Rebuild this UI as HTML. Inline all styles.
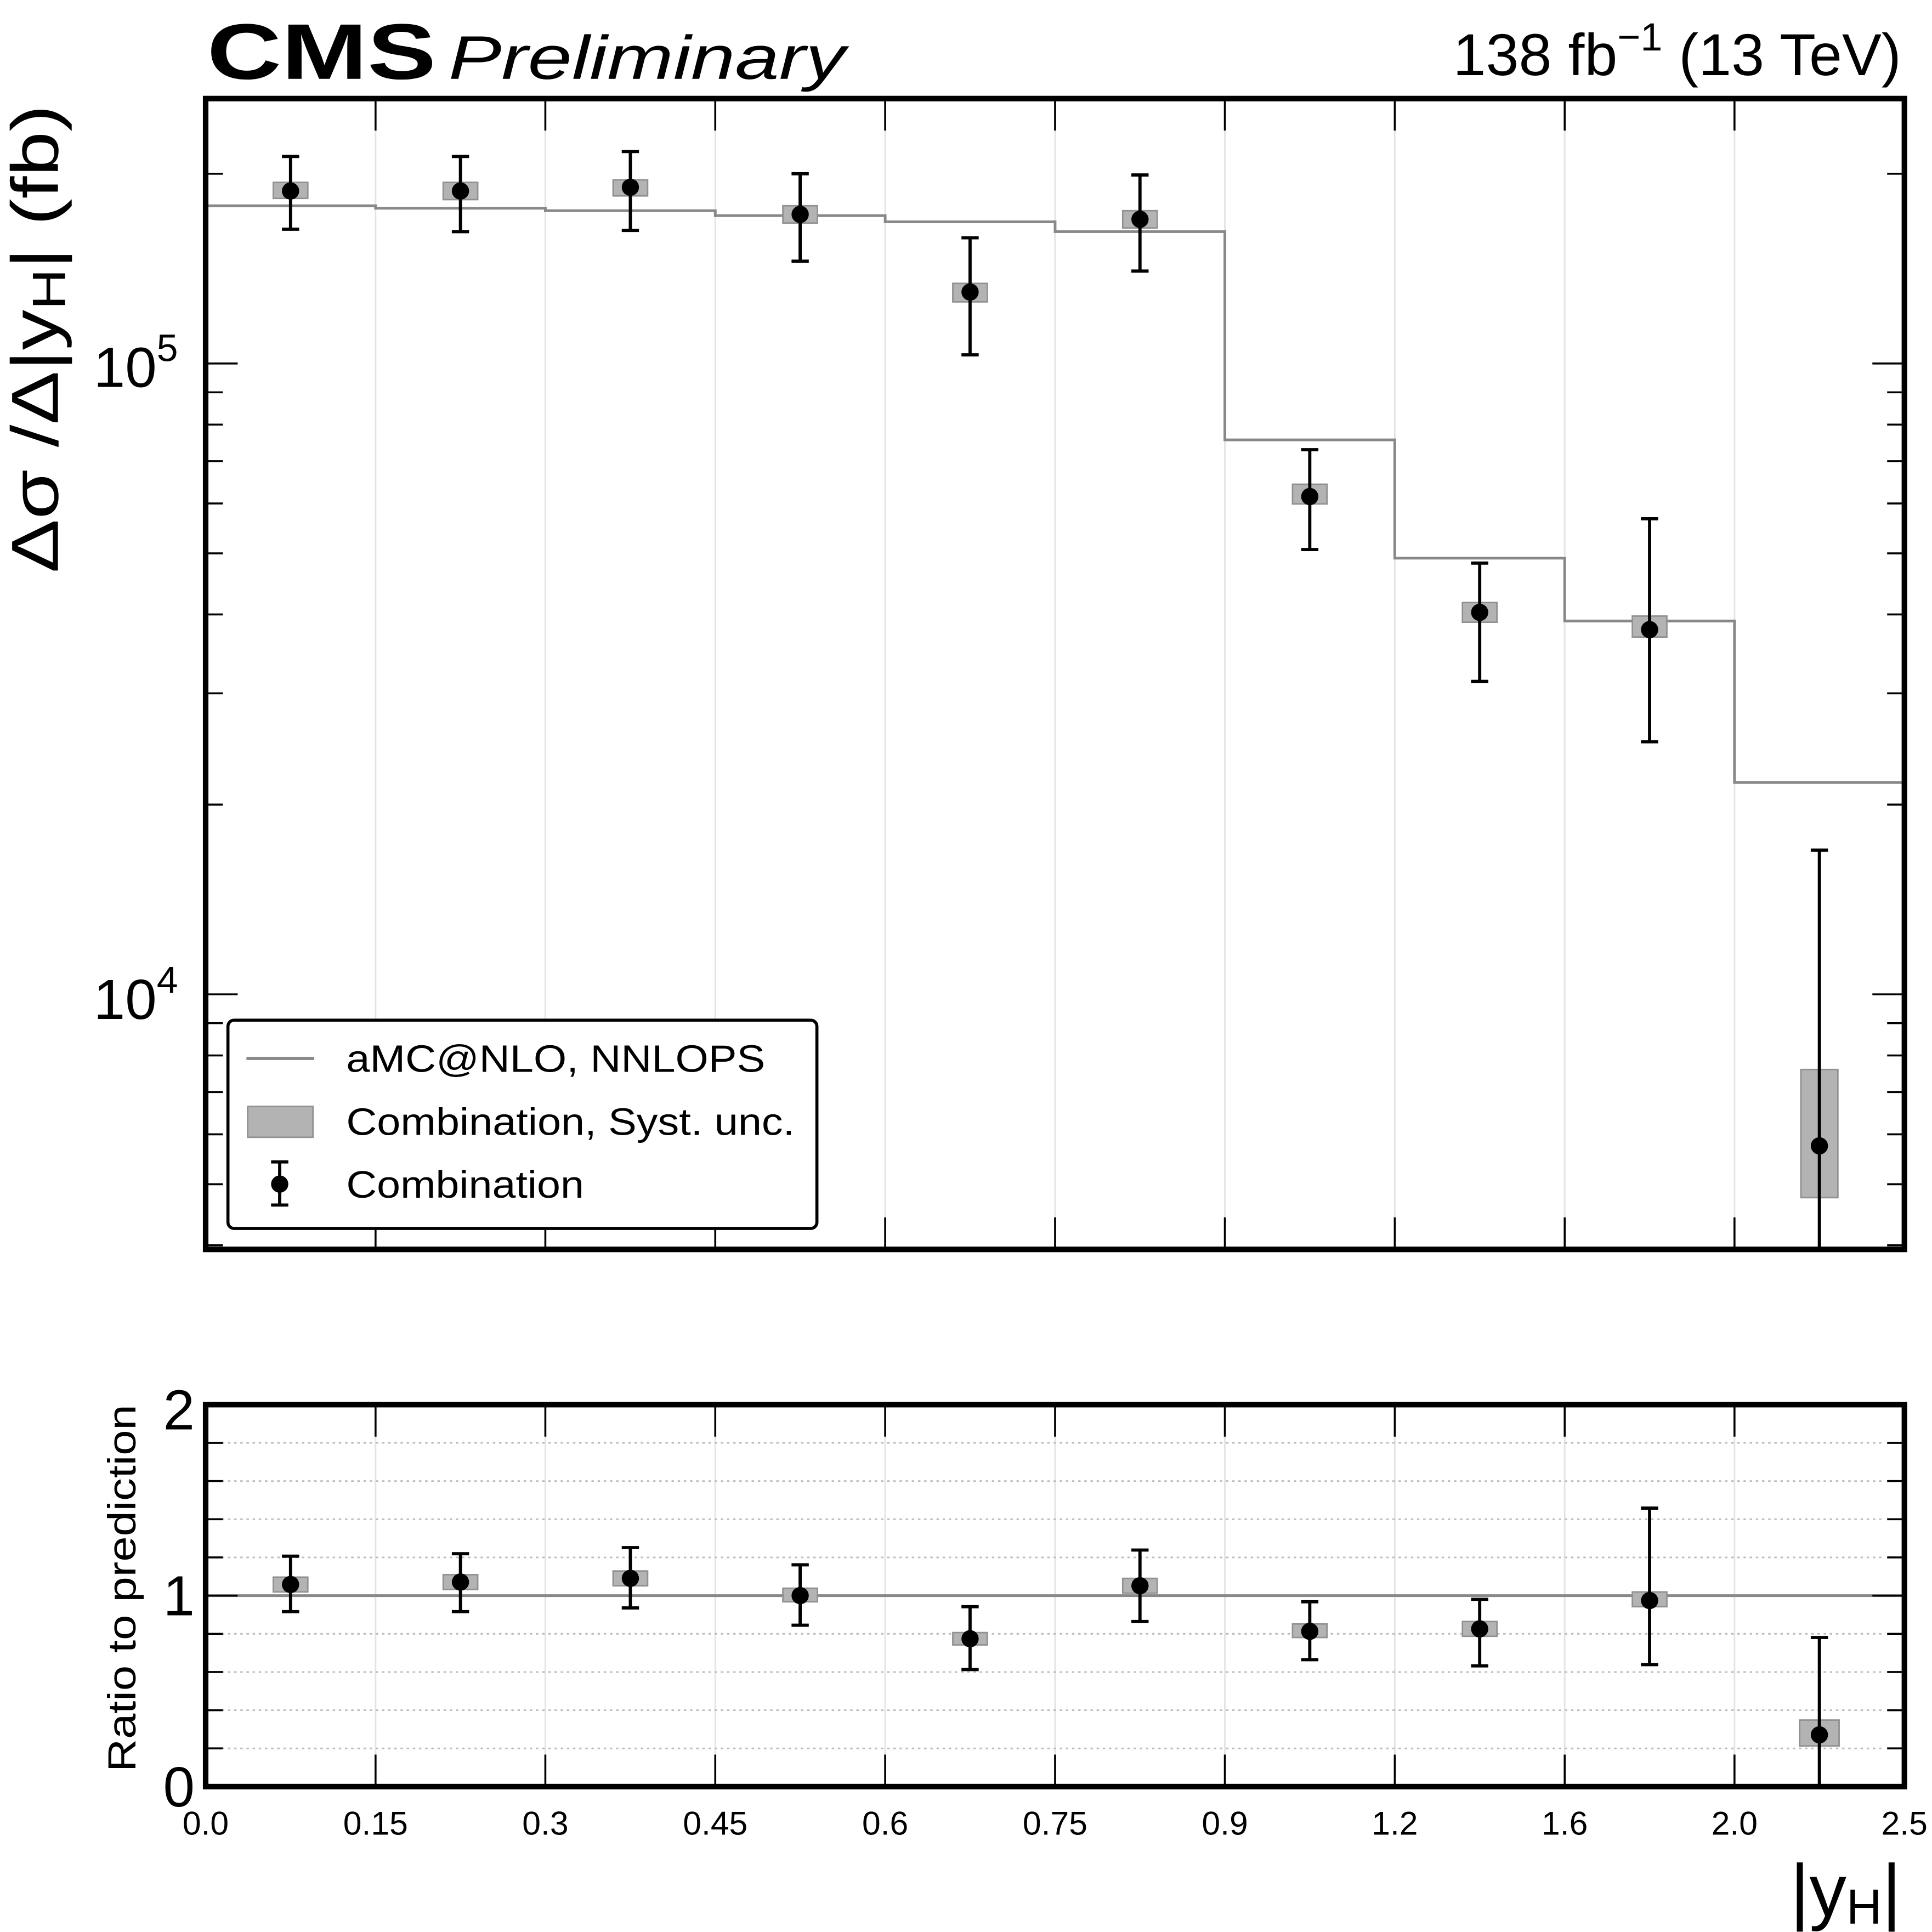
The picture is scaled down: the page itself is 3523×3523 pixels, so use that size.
<!DOCTYPE html>
<html><head><meta charset="utf-8"><style>
html,body{margin:0;padding:0;background:#fff;}
svg{display:block;}
text{font-family:"Liberation Sans",Arial,sans-serif;fill:#000;}
</style></head><body>
<svg width="3523" height="3523" viewBox="0 0 1568 1568" xmlns="http://www.w3.org/2000/svg">
<g stroke="#e4e4e4" stroke-width="1.3">
<line x1="304.8" y1="80" x2="304.8" y2="1014"/><line x1="442.6" y1="80" x2="442.6" y2="1014"/><line x1="580.5" y1="80" x2="580.5" y2="1014"/><line x1="718.4" y1="80" x2="718.4" y2="1014"/><line x1="856.3" y1="80" x2="856.3" y2="1014"/><line x1="994.1" y1="80" x2="994.1" y2="1014"/><line x1="1132" y1="80" x2="1132" y2="1014"/><line x1="1269.9" y1="80" x2="1269.9" y2="1014"/><line x1="1407.7" y1="80" x2="1407.7" y2="1014"/>
<line x1="304.8" y1="1140" x2="304.8" y2="1450"/><line x1="442.6" y1="1140" x2="442.6" y2="1450"/><line x1="580.5" y1="1140" x2="580.5" y2="1450"/><line x1="718.4" y1="1140" x2="718.4" y2="1450"/><line x1="856.3" y1="1140" x2="856.3" y2="1450"/><line x1="994.1" y1="1140" x2="994.1" y2="1450"/><line x1="1132" y1="1140" x2="1132" y2="1450"/><line x1="1269.9" y1="1140" x2="1269.9" y2="1450"/><line x1="1407.7" y1="1140" x2="1407.7" y2="1450"/>
</g>
<g stroke="#bbb" stroke-width="1.3" stroke-dasharray="2,3">
<line x1="180" y1="1171" x2="1530" y2="1171"/><line x1="180" y1="1202" x2="1530" y2="1202"/><line x1="180" y1="1233" x2="1530" y2="1233"/><line x1="180" y1="1264" x2="1530" y2="1264"/><line x1="180" y1="1326" x2="1530" y2="1326"/><line x1="180" y1="1357" x2="1530" y2="1357"/><line x1="180" y1="1388" x2="1530" y2="1388"/><line x1="180" y1="1419" x2="1530" y2="1419"/>
</g>
<path d="M166.9 167 H304.8 V169 H442.6 V171 H580.5 V175 H718.4 V180 H856.3 V188 H994.1 V357 H1132 V453 H1269.9 V504 H1407.7 V635 H1545.6" fill="none" stroke="#888" stroke-width="2.2"/>
<line x1="166.9" y1="1295" x2="1545.6" y2="1295" stroke="#888" stroke-width="2.2"/>
<g fill="#b3b3b3" stroke="#909090" stroke-width="1.2">
<rect x="221.8" y="148" width="28" height="13"/><rect x="359.7" y="148" width="28" height="14"/><rect x="497.6" y="146" width="28" height="13"/><rect x="635.4" y="167" width="28" height="14"/><rect x="773.3" y="230" width="28" height="15"/><rect x="911.2" y="171" width="28" height="14"/><rect x="1049" y="393" width="28" height="16"/><rect x="1186.9" y="489" width="28" height="16"/><rect x="1324.8" y="500" width="28" height="17"/><rect x="1461.6" y="868" width="30" height="104"/>
<rect x="221.8" y="1280" width="28" height="12"/><rect x="359.7" y="1278" width="28" height="12"/><rect x="497.6" y="1275" width="28" height="12"/><rect x="635.4" y="1289" width="28" height="11"/><rect x="773.3" y="1325" width="28" height="10"/><rect x="911.2" y="1281" width="28" height="12"/><rect x="1049" y="1318" width="28" height="11"/><rect x="1186.9" y="1316" width="28" height="12"/><rect x="1324.8" y="1292" width="28" height="12"/><rect x="1460.6" y="1396" width="32" height="21"/>
</g>
<g stroke="#000" stroke-width="2.6" fill="none">
<path d="M235.8 127V186M228.8 127H242.8M228.8 186H242.8"/>
<path d="M373.7 127V188M366.7 127H380.7M366.7 188H380.7"/>
<path d="M511.6 123V187M504.6 123H518.6M504.6 187H518.6"/>
<path d="M649.4 141V212M642.4 141H656.4M642.4 212H656.4"/>
<path d="M787.3 193V288M780.3 193H794.3M780.3 288H794.3"/>
<path d="M925.2 142V220M918.2 142H932.2M918.2 220H932.2"/>
<path d="M1063 365V446M1056 365H1070M1056 446H1070"/>
<path d="M1200.9 457V553M1193.9 457H1207.9M1193.9 553H1207.9"/>
<path d="M1338.8 421V602M1331.8 421H1345.8M1331.8 602H1345.8"/>
<path d="M1476.6 690V1014M1469.6 690H1483.6"/>
<path d="M235.8 1263V1308M228.8 1263H242.8M228.8 1308H242.8"/>
<path d="M373.7 1261V1308M366.7 1261H380.7M366.7 1308H380.7"/>
<path d="M511.6 1256V1305M504.6 1256H518.6M504.6 1305H518.6"/>
<path d="M649.4 1270V1319M642.4 1270H656.4M642.4 1319H656.4"/>
<path d="M787.3 1304V1355M780.3 1304H794.3M780.3 1355H794.3"/>
<path d="M925.2 1258V1316M918.2 1258H932.2M918.2 1316H932.2"/>
<path d="M1063 1300V1347M1056 1300H1070M1056 1347H1070"/>
<path d="M1200.9 1298V1352M1193.9 1298H1207.9M1193.9 1352H1207.9"/>
<path d="M1338.8 1224V1351M1331.8 1224H1345.8M1331.8 1351H1345.8"/>
<path d="M1476.6 1329V1450M1469.6 1329H1483.6"/>
</g>
<g fill="#000">
<circle cx="235.8" cy="155" r="7"/><circle cx="373.7" cy="155" r="7"/><circle cx="511.6" cy="152" r="7"/><circle cx="649.4" cy="174" r="7"/><circle cx="787.3" cy="237" r="7"/><circle cx="925.2" cy="178" r="7"/><circle cx="1063" cy="403" r="7"/><circle cx="1200.9" cy="497" r="7"/><circle cx="1338.8" cy="511" r="7"/><circle cx="1476.6" cy="930" r="7"/>
<circle cx="235.8" cy="1286" r="7"/><circle cx="373.7" cy="1284" r="7"/><circle cx="511.6" cy="1281" r="7"/><circle cx="649.4" cy="1295" r="7"/><circle cx="787.3" cy="1330" r="7"/><circle cx="925.2" cy="1287" r="7"/><circle cx="1063" cy="1324" r="7"/><circle cx="1200.9" cy="1322" r="7"/><circle cx="1338.8" cy="1299" r="7"/><circle cx="1476.6" cy="1408" r="7"/>
</g>
<g stroke="#000" stroke-width="1.6">
<path d="M304.8 80v26M442.6 80v26M580.5 80v26M718.4 80v26M856.3 80v26M994.1 80v26M1132 80v26M1269.9 80v26M1407.7 80v26
M304.8 1014v-26M442.6 1014v-26M580.5 1014v-26M718.4 1014v-26M856.3 1014v-26M994.1 1014v-26M1132 1014v-26M1269.9 1014v-26M1407.7 1014v-26
M304.8 1140v26M442.6 1140v26M580.5 1140v26M718.4 1140v26M856.3 1140v26M994.1 1140v26M1132 1140v26M1269.9 1140v26M1407.7 1140v26
M304.8 1450v-26M442.6 1450v-26M580.5 1450v-26M718.4 1450v-26M856.3 1450v-26M994.1 1450v-26M1132 1450v-26M1269.9 1450v-26M1407.7 1450v-26"/>
<path d="M166.9 295h26M166.9 807h26M1545.6 295h-26M1545.6 807h-26"/>
<path d="M166.9 141h14M166.9 318.4h14M166.9 344.6h14M166.9 374.3h14M166.9 408.6h14M166.9 449.1h14M166.9 498.7h14M166.9 562.7h14M166.9 653h14M166.9 830.4h14M166.9 856.6h14M166.9 886.3h14M166.9 920.6h14M166.9 961.1h14M166.9 1010.7h14
M1545.6 141h-14M1545.6 318.4h-14M1545.6 344.6h-14M1545.6 374.3h-14M1545.6 408.6h-14M1545.6 449.1h-14M1545.6 498.7h-14M1545.6 562.7h-14M1545.6 653h-14M1545.6 830.4h-14M1545.6 856.6h-14M1545.6 886.3h-14M1545.6 920.6h-14M1545.6 961.1h-14M1545.6 1010.7h-14"/>
<path d="M166.9 1171h14M166.9 1202h14M166.9 1233h14M166.9 1264h14M166.9 1295h26M166.9 1326h14M166.9 1357h14M166.9 1388h14M166.9 1419h14
M1545.6 1171h-14M1545.6 1202h-14M1545.6 1233h-14M1545.6 1264h-14M1545.6 1295h-26M1545.6 1326h-14M1545.6 1357h-14M1545.6 1388h-14M1545.6 1419h-14"/>
</g>
<rect x="166.9" y="80" width="1378.7" height="934" fill="none" stroke="#000" stroke-width="4.5"/>
<rect x="166.9" y="1140" width="1378.7" height="310" fill="none" stroke="#000" stroke-width="4.5"/>
<rect x="185" y="828" width="478" height="169" rx="5" fill="#fff" stroke="#000" stroke-width="2.5"/>
<line x1="200" y1="859" x2="255" y2="859" stroke="#888" stroke-width="2.5"/>
<rect x="201" y="898" width="53" height="25" fill="#b3b3b3" stroke="#909090" stroke-width="1.2"/>
<path d="M227 943V978M220 943H234M220 978H234" stroke="#000" stroke-width="2.6"/>
<circle cx="227" cy="961" r="7"/>
<text x="281" y="870" font-size="31" textLength="340" lengthAdjust="spacingAndGlyphs">aMC@NLO, NNLOPS</text>
<text x="281" y="921" font-size="31" textLength="364" lengthAdjust="spacingAndGlyphs">Combination, Syst. unc.</text>
<text x="281" y="972" font-size="31" textLength="193" lengthAdjust="spacingAndGlyphs">Combination</text>
<text x="76" y="314" font-size="46">10<tspan font-size="31" dy="-21">5</tspan></text>
<text x="76" y="827" font-size="46">10<tspan font-size="31" dy="-21">4</tspan></text>
<text x="158" y="1160" font-size="46" text-anchor="end">2</text>
<text x="158" y="1311" font-size="46" text-anchor="end">1</text>
<text x="158" y="1466" font-size="46" text-anchor="end">0</text>
<g font-size="27" text-anchor="middle">
<text x="166.9" y="1489">0.0</text><text x="304.8" y="1489">0.15</text><text x="442.6" y="1489">0.3</text><text x="580.5" y="1489">0.45</text><text x="718.4" y="1489">0.6</text><text x="856.3" y="1489">0.75</text><text x="994.1" y="1489">0.9</text><text x="1132" y="1489">1.2</text><text x="1269.9" y="1489">1.6</text><text x="1407.7" y="1489">2.0</text><text x="1545.6" y="1489">2.5</text>
</g>
<text x="1543" y="1555" font-size="60" text-anchor="end">|y<tspan font-size="40" dy="6">H</tspan><tspan dy="-6">|</tspan></text>
<text transform="translate(47,275) rotate(-90)" font-size="54" text-anchor="middle" textLength="380" lengthAdjust="spacingAndGlyphs">Δσ /Δ|y<tspan font-size="38" dy="6">H</tspan><tspan dy="-6">| (fb)</tspan></text>
<text transform="translate(110,1289) rotate(-90)" font-size="32" text-anchor="middle" textLength="298" lengthAdjust="spacingAndGlyphs">Ratio to prediction</text>
<text x="168" y="64" font-size="64" font-weight="bold" textLength="186" lengthAdjust="spacingAndGlyphs">CMS</text>
<text x="364" y="64" font-size="50" font-style="italic" textLength="322" lengthAdjust="spacingAndGlyphs">Preliminary</text>
<text x="1543" y="61" font-size="48" text-anchor="end">138 fb<tspan font-size="32" dy="-20">−1</tspan><tspan dy="20"> (13 TeV)</tspan></text>
</svg>
</body></html>
